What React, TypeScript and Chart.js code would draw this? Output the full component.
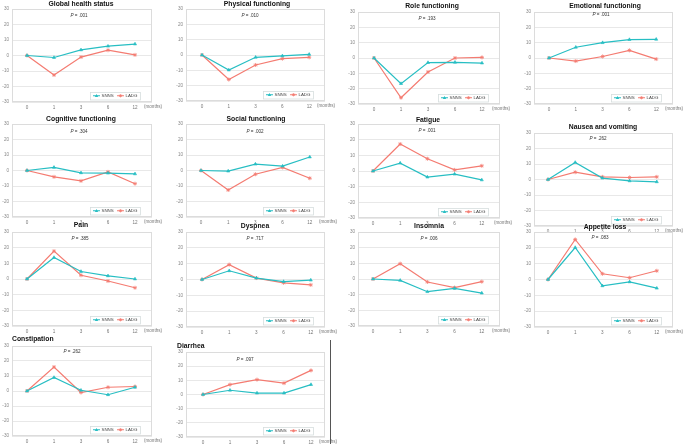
import React, { useEffect, useRef } from "react";
import { Chart, registerables } from "chart.js";
Chart.register(...registerables);

// ---- data ----
const months = ["0", "1", "3", "6", "12"];
const yTicks = [-30, -20, -10, 0, 10, 20, 30];
const seriesNames = ["SNNS", "LADG"];

const globalSNNS = [0, -1.3, 3.6, 6, 7.4];
const globalLADG = [0, -12.6, -1, 3.4, 0.4];
const physicalSNNS = [0, -9.8, -1.5, -0.6, 0.4];
const physicalLADG = [0, -16, -6.5, -2.4, -1.5];
const roleSNNS = [0, -16.7, -3, -2.8, -3.3];
const roleLADG = [0, -25.9, -9.1, 0, 0.4];
const emotionalSNNS = [0, 7, 10, 12, 12.2];
const emotionalLADG = [0, -2, 1, 5, -0.7];
const cognitiveSNNS = [0, 2, -1.5, -1.7, -2.2];
const cognitiveLADG = [0, -4.1, -6.7, -0.9, -8.5];
const socialSNNS = [0, -0.4, 4.1, 2.8, 8.7];
const socialLADG = [0, -12.6, -2.4, 2, -5];
const fatigueSNNS = [0, 5, -3.9, -2, -5.7];
const fatigueLADG = [0, 17.2, 7.8, 0.7, 3.3];
const nauseaSNNS = [0, 11, 0.9, -0.9, -1.5];
const nauseaLADG = [0, 4.7, 1.7, 1.3, 1.7];
const painSNNS = [0, 13.7, 4.8, 2, 0];
const painLADG = [0, 17.8, 2.4, -1.3, -5.6];
const dyspneaSNNS = [0, 5.5, 0.9, -1.3, -0.4];
const dyspneaLADG = [0, 9.4, 0.9, -2.1, -3.4];
const insomniaSNNS = [0, -0.9, -8.1, -6, -9];
const insomniaLADG = [0, 9.8, -1.9, -5.5, -1.7];
const appetiteSNNS = [0, 20.2, -4, -1.5, -5.5];
const appetiteLADG = [0, 25.3, 3.6, 1.1, 5.5];
const constipationSNNS = [0, 9, 0.5, -2.5, 2.5];
const constipationLADG = [0, 16, -1, 2.5, 3];
const diarrheaSNNS = [0, 3, 1, 1, 7];
const diarrheaLADG = [0, 7, 10.5, 8, 17];

const panelTitles = [
  "Global health status", "Physical functioning", "Role functioning", "Emotional functioning",
  "Cognitive functioning", "Social functioning", "Fatigue", "Nausea and vomiting",
  "Pain", "Dyspnea", "Insomnia", "Appetite loss", "Constipation", "Diarrhea",
];
const pValues = [".001", ".010", ".193", ".001", ".304", ".002", ".001", ".262", ".385", ".717", ".006", ".083", ".262", ".097"];
const panelSeries = [
  [globalSNNS, globalLADG], [physicalSNNS, physicalLADG], [roleSNNS, roleLADG], [emotionalSNNS, emotionalLADG],
  [cognitiveSNNS, cognitiveLADG], [socialSNNS, socialLADG], [fatigueSNNS, fatigueLADG], [nauseaSNNS, nauseaLADG],
  [painSNNS, painLADG], [dyspneaSNNS, dyspneaLADG], [insomniaSNNS, insomniaLADG], [appetiteSNNS, appetiteLADG],
  [constipationSNNS, constipationLADG], [diarrheaSNNS, diarrheaLADG],
];

// ---- layout (page px) ----
type Geo = { L: number; R: number; T: number; B: number; t0: number; sp: number; tx: number; ty: number; ta: "center" | "left"; px: number; py: number; mx: number };
const geos: Geo[] = [
  { L: 12, R: 152, T: 9, B: 102, t0: 27, sp: 27, tx: 81, ty: 4, ta: "center", px: 79, py: 16, mx: 153 },
  { L: 186, R: 325, T: 9, B: 101, t0: 202, sp: 26.8, tx: 257, ty: 4, ta: "center", px: 250, py: 16, mx: 326 },
  { L: 358, R: 500, T: 12, B: 104, t0: 374, sp: 27, tx: 432, ty: 6, ta: "center", px: 427, py: 19, mx: 501 },
  { L: 534, R: 673, T: 12, B: 104, t0: 549, sp: 26.8, tx: 605, ty: 6, ta: "center", px: 601, py: 15, mx: 674 },
  { L: 12, R: 152, T: 124, B: 217, t0: 27, sp: 27, tx: 81, ty: 119, ta: "center", px: 79, py: 132, mx: 153 },
  { L: 186, R: 325, T: 124, B: 217, t0: 201, sp: 27.2, tx: 256, ty: 119, ta: "center", px: 255, py: 132, mx: 328 },
  { L: 358, R: 500, T: 124, B: 218, t0: 373, sp: 27.2, tx: 428, ty: 120, ta: "center", px: 427, py: 131, mx: 503 },
  { L: 534, R: 673, T: 133, B: 226, t0: 548, sp: 27.2, tx: 603, ty: 127, ta: "center", px: 598, py: 139, mx: 674 },
  { L: 12, R: 152, T: 232, B: 326, t0: 27, sp: 27, tx: 81, ty: 225, ta: "center", px: 80, py: 239, mx: 153 },
  { L: 186, R: 325, T: 232, B: 327, t0: 202, sp: 27.2, tx: 255, ty: 226, ta: "center", px: 255, py: 239, mx: 328 },
  { L: 358, R: 500, T: 232, B: 326, t0: 373, sp: 27.2, tx: 429, ty: 226, ta: "center", px: 429, py: 239, mx: 501 },
  { L: 534, R: 673, T: 232, B: 327, t0: 548, sp: 27.2, tx: 605, ty: 227, ta: "center", px: 600, py: 238, mx: 674 },
  { L: 12, R: 152, T: 346, B: 436, t0: 27, sp: 27, tx: 12, ty: 339, ta: "left", px: 72, py: 352, mx: 153 },
  { L: 186, R: 325, T: 352, B: 437, t0: 203, sp: 27, tx: 177, ty: 346, ta: "left", px: 245, py: 360, mx: 328 },
];

const TEAL = "#27bec3";
const RED = "#f47b71";
const FONT = "'Liberation Sans', Arial, sans-serif";
const YAXW = 14, PADT = 12, PADR = 16, XAXH = 9;

function Panel({ idx }: { idx: number }) {
  const ref = useRef<HTMLCanvasElement>(null);
  const g = geos[idx];
  const cl = g.L - YAXW, ct = g.T - PADT;
  const cw = g.R - g.L + YAXW + PADR;
  const ch = g.B - g.T + PADT + XAXH + 1;
  useEffect(() => {
    const [s1, s2] = panelSeries[idx];
    const xmin = (g.L - g.t0) / g.sp;
    const xmax = 4 + (g.R - (g.t0 + 4 * g.sp)) / g.sp;
    const decor = {
      id: "decor",
      beforeDatasetsDraw(chart: any) {
        const { ctx, chartArea: a } = chart;
        ctx.save();
        ctx.strokeStyle = "#dcdcdc";
        ctx.lineWidth = 1;
        ctx.strokeRect(Math.round(a.left) + 0.5, Math.round(a.top) + 0.5, Math.round(a.right - a.left) - 1, Math.round(a.bottom - a.top) - 1);
        ctx.restore();
      },
      afterDraw(chart: any) {
        const { ctx, chartArea: a } = chart;
        ctx.save();
        // title
        ctx.fillStyle = "#111";
        ctx.font = `bold 6.8px ${FONT}`;
        ctx.textBaseline = "middle";
        ctx.textAlign = g.ta;
        ctx.fillText(panelTitles[idx], g.tx - cl, g.ty - ct);
        // p value
        ctx.font = `italic 4.6px ${FONT}`;
        const rest = " = " + pValues[idx];
        ctx.textAlign = "left";
        const wP = ctx.measureText("P").width;
        ctx.font = `4.6px ${FONT}`;
        const wR = ctx.measureText(rest).width;
        const sx = g.px - cl - (wP + wR) / 2;
        ctx.fillStyle = "#333";
        ctx.font = `italic 4.6px ${FONT}`;
        ctx.fillText("P", sx, g.py - ct);
        ctx.font = `4.6px ${FONT}`;
        ctx.fillText(rest, sx + wP, g.py - ct);
        // months
        ctx.fillStyle = "#777";
        ctx.textAlign = "center";
        ctx.textBaseline = "top";
        ctx.fillText("(months)", g.mx - cl, a.bottom + 2.5);
        // legend
        const bw = 50, bh = 7.5;
        const bx = a.right - 12 - bw, by = a.bottom - 3 - bh;
        ctx.fillStyle = "#fff";
        ctx.fillRect(bx, by, bw, bh);
        ctx.strokeStyle = "#d6dede";
        ctx.lineWidth = 0.8;
        ctx.strokeRect(Math.round(bx) + 0.5, Math.round(by) + 0.5, bw, bh);
        const my = by + bh / 2 + 0.5;
        const items = [[TEAL, seriesNames[0], "tri"], [RED, seriesNames[1], "star"]];
        items.forEach(([c, label, st], i) => {
          const ox = bx + 3 + i * 24;
          ctx.strokeStyle = c;
          ctx.fillStyle = c;
          ctx.lineWidth = 1;
          ctx.beginPath();
          ctx.moveTo(ox, my);
          ctx.lineTo(ox + 7, my);
          ctx.stroke();
          const cx = ox + 3.5;
          if (st === "tri") {
            ctx.beginPath();
            ctx.moveTo(cx, my - 1.8);
            ctx.lineTo(cx + 1.7, my + 1.2);
            ctx.lineTo(cx - 1.7, my + 1.2);
            ctx.closePath();
            ctx.fill();
          } else {
            ctx.lineWidth = 0.8;
            ctx.beginPath();
            for (let k = 0; k < 4; k++) {
              const ang = (k * Math.PI) / 4;
              ctx.moveTo(cx - 1.6 * Math.cos(ang), my - 1.6 * Math.sin(ang));
              ctx.lineTo(cx + 1.6 * Math.cos(ang), my + 1.6 * Math.sin(ang));
            }
            ctx.stroke();
          }
          ctx.fillStyle = "#444";
          ctx.font = `4.4px ${FONT}`;
          ctx.textAlign = "left";
          ctx.textBaseline = "middle";
          ctx.fillText(label as string, ox + 8.5, my);
        });
        ctx.restore();
      },
    };
    const chart = new Chart(ref.current!, {
      type: "line",
      data: {
        datasets: [
          {
            label: seriesNames[0],
            data: s1.map((v, i) => ({ x: i, y: v })),
            borderColor: TEAL,
            backgroundColor: TEAL,
            borderWidth: 1.2,
            pointStyle: "triangle",
            pointRadius: 1.8,
            pointBorderWidth: 0.6,
            tension: 0,
          },
          {
            label: seriesNames[1],
            data: s2.map((v, i) => ({ x: i, y: v })),
            borderColor: RED,
            backgroundColor: RED,
            borderWidth: 1.2,
            pointStyle: "star",
            pointRadius: 2,
            pointBorderWidth: 0.8,
            tension: 0,
          },
        ],
      },
      options: {
        responsive: false,
        animation: false,
        devicePixelRatio: 1,
        layout: { padding: { top: PADT, right: PADR, bottom: 1, left: 0 } },
        plugins: { legend: { display: false }, tooltip: { enabled: false }, title: { display: false } },
        scales: {
          x: {
            type: "linear",
            min: xmin,
            max: xmax,
            afterBuildTicks: (s: any) => { s.ticks = months.map((_, i) => ({ value: i })); },
            afterFit: (s: any) => { s.height = XAXH; },
            grid: { display: false, drawTicks: false },
            border: { display: false },
            ticks: {
              callback: (v: any) => months[v] ?? "",
              font: { size: 4.6, family: FONT },
              color: "#777",
              padding: 2.5,
              maxRotation: 0,
              autoSkip: false,
            },
          },
          y: {
            min: -30,
            max: 30,
            afterBuildTicks: (s: any) => { s.ticks = yTicks.map((v) => ({ value: v })); },
            afterFit: (s: any) => { s.width = YAXW; },
            grid: { color: "#e8e8e8", drawTicks: false, lineWidth: 1 },
            border: { display: false },
            ticks: { font: { size: 4.6, family: FONT }, color: "#888", padding: 3 },
          },
        },
      } as any,
      plugins: [decor],
    });
    return () => chart.destroy();
  }, [idx]);
  return (
    <canvas
      ref={ref}
      width={cw}
      height={ch}
      style={{ position: "absolute", left: cl, top: ct, width: cw, height: ch }}
    />
  );
}

export default function App() {
  return (
    <div style={{ position: "fixed", left: 0, top: 0, width: 685, height: 444, background: "#fff", overflow: "hidden" }}>
      {geos.map((_, i) => (
        <Panel key={i} idx={i} />
      ))}
      <div style={{ position: "absolute", left: 330, top: 340, width: 1, height: 104, background: "#555" }} />
    </div>
  );
}
